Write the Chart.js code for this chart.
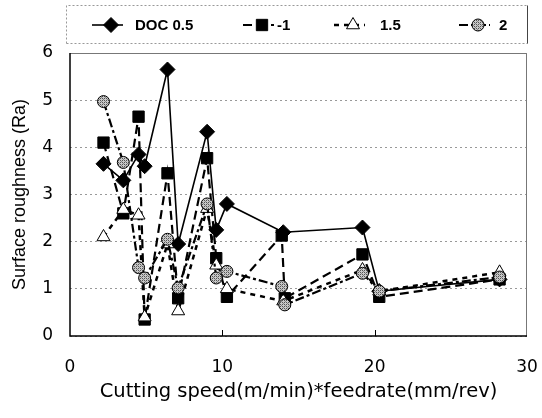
<!DOCTYPE html>
<html>
<head>
<meta charset="utf-8">
<script src="https://cdn.jsdelivr.net/npm/chart.js@4"></script>
<style>
html,body{margin:0;padding:0;background:#fff}
#wrap{width:542px;height:418px;position:relative}
</style>
</head>
<body>
<div id="wrap"><canvas id="chart"></canvas></div>
<script>
// -------- series names --------
const seriesNames = ["DOC 0.5", "-1", "1.5", "2"];

// -------- cutting speed * feedrate (x) and Ra (y) per depth of cut --------
const xDoc05  = [2.2, 3.5, 4.5, 4.9, 6.4, 7.1, 9.0, 9.6, 10.3, 14.0, 19.2, 20.3, 28.2];
const raDoc05 = [3.65, 3.3, 3.85, 3.6, 5.65, 1.95, 4.33, 2.25, 2.8, 2.2, 2.3, 0.95, 1.2];

const xDoc1  = [2.2, 3.5, 4.5, 4.9, 6.4, 7.1, 9.0, 9.6, 10.3, 13.9, 14.1, 19.2, 20.3, 28.2];
const raDoc1 = [4.1, 2.6, 4.65, 0.35, 3.45, 0.8, 3.77, 1.65, 0.83, 2.13, 0.8, 1.73, 0.83, 1.2];

const xDoc15  = [2.2, 3.5, 4.5, 4.9, 6.4, 7.1, 9.0, 9.6, 10.3, 14.0, 19.2, 20.3, 28.2];
const raDoc15 = [2.1, 2.68, 2.56, 0.4, 1.95, 0.53, 2.7, 1.5, 1.0, 0.74, 1.4, 0.95, 1.35];

const xDoc2  = [2.2, 3.5, 4.5, 4.9, 6.4, 7.1, 9.0, 9.6, 10.3, 13.9, 14.1, 19.2, 20.3, 28.2];
const raDoc2 = [4.97, 3.68, 1.45, 1.23, 2.05, 1.02, 2.8, 1.23, 1.37, 1.05, 0.66, 1.33, 0.95, 1.25];

// -------- axis ticks --------
const xTicks = [0, 10, 20, 30];
const yTicks = [0, 1, 2, 3, 4, 5, 6];

function pts(xs, ys){ return xs.map((x,i)=>({x:x, y:ys[i]})); }

// grainy grey fill for the round markers
function hatch(){
    const c = document.createElement('canvas');
    c.width = 4; c.height = 4;
    const g = c.getContext('2d');
    g.fillStyle = '#c8c8c8'; g.fillRect(0,0,4,4);
    g.fillStyle = '#555';
    g.fillRect(0,0,1,1); g.fillRect(2,2,1,1); g.fillRect(2,0,1,1); g.fillRect(0,2,1,1);
    g.fillStyle = '#888';
    g.fillRect(1,1,1,1); g.fillRect(3,3,1,1);
    return g.createPattern(c, 'repeat');
}
const circleFill = hatch();

const FONT = "'Liberation Sans', Arial, sans-serif";
const WIDE = "'DejaVu Sans', sans-serif";

// -------- legend drawn as line + marker samples in a box --------
const legendPos = [
    {mark:111, text:135},
    {mark:262, text:277},
    {mark:353, text:380},
    {mark:478, text:499}
];
const legendBox = {
    id:'legendBox',
    afterDraw(chart){
        const ctx = chart.ctx;
        ctx.save();
        ctx.strokeStyle = '#999';
        ctx.lineWidth = 1;
        ctx.setLineDash([2,2]);
        ctx.beginPath();
        ctx.moveTo(66.5, 43.5); ctx.lineTo(66.5, 5.5); ctx.lineTo(527.5, 5.5);
        ctx.moveTo(66.5, 43.5); ctx.lineTo(527.5, 43.5);
        ctx.stroke();
        ctx.setLineDash([]);
        ctx.strokeStyle = '#444';
        ctx.beginPath(); ctx.moveTo(527.5, 5.5); ctx.lineTo(527.5, 43.5); ctx.stroke();
        const y = 25;
        chart.data.datasets.forEach((ds,i)=>{
            const p = legendPos[i];
            ctx.strokeStyle = '#000';
            ctx.lineWidth = ds.borderWidth;
            ctx.setLineDash(ds.borderDash || []);
            ctx.beginPath();
            ctx.moveTo(p.mark-19, y);
            ctx.lineTo(p.mark+12, y);
            ctx.stroke();
            ctx.setLineDash([]);
            ctx.fillStyle = ds.pointBackgroundColor;
            ctx.strokeStyle = '#000';
            ctx.lineWidth = 1;
            Chart.helpers.drawPoint(ctx, {pointStyle:ds.pointStyle, radius:ds.pointRadius, rotation:0, borderWidth:1}, p.mark, y);
            ctx.fillStyle = '#000';
            ctx.font = 'bold 15px ' + FONT;
            ctx.textBaseline = 'middle';
            ctx.textAlign = 'left';
            ctx.fillText(ds.label, p.text, y+1);
        });
        ctx.restore();
    }
};

// -------- plot frame and inner tick marks --------
const frame = {
    id:'frame',
    beforeDatasetsDraw(chart){
        const {ctx, chartArea:a, scales} = chart;
        ctx.save();
        ctx.strokeStyle = '#777';
        ctx.lineWidth = 1;
        ctx.beginPath();
        ctx.moveTo(a.left, a.top+0.5); ctx.lineTo(a.right-0.5, a.top+0.5); ctx.lineTo(a.right-0.5, a.bottom);
        ctx.stroke();
        ctx.strokeStyle = '#000';
        ctx.lineWidth = 1.5;
        ctx.beginPath();
        ctx.moveTo(a.left, a.top); ctx.lineTo(a.left, a.bottom); ctx.lineTo(a.right, a.bottom);
        ctx.stroke();
        ctx.lineWidth = 1;
        xTicks.slice(1,-1).forEach(v=>{
            const x = Math.round(scales.x.getPixelForValue(v))+0.5;
            ctx.beginPath(); ctx.moveTo(x, a.bottom); ctx.lineTo(x, a.bottom-6); ctx.stroke();
        });
        ctx.restore();
    }
};

const datasets = [
    {label:seriesNames[0], data:pts(xDoc05, raDoc05), borderColor:'#000', borderWidth:1.6, borderDash:[],
     pointStyle:'rectRot', pointRadius:7.5, pointBackgroundColor:'#000', pointBorderColor:'#000', order:2},
    {label:seriesNames[1], data:pts(xDoc1, raDoc1), borderColor:'#000', borderWidth:2.2, borderDash:[9,5],
     pointStyle:'rect', pointRadius:8, pointBackgroundColor:'#000', pointBorderColor:'#000', order:3},
    {label:seriesNames[2], data:pts(xDoc15, raDoc15), borderColor:'#000', borderWidth:2.5, borderDash:[5,5],
     pointStyle:'triangle', pointRadius:7.5, pointBackgroundColor:'#fff', pointBorderColor:'#000', order:1},
    {label:seriesNames[3], data:pts(xDoc2, raDoc2), borderColor:'#000', borderWidth:2.2, borderDash:[9,3,3,3],
     pointStyle:'circle', pointRadius:6, pointBackgroundColor:circleFill, pointBorderColor:'#000', order:0}
];
datasets.forEach(d=>{ d.showLine = true; d.fill = false; d.tension = 0; d.pointBorderWidth = 1; });

new Chart(document.getElementById('chart'), {
    type:'scatter',
    data:{datasets:datasets},
    options:{
        responsive:true,
        maintainAspectRatio:false,
        animation:false,
        layout:{padding:{top:53, right:15, left:0, bottom:0}},
        plugins:{legend:{display:false}, tooltip:{enabled:false}},
        scales:{
            x:{
                type:'linear', min:0, max:30,
                afterBuildTicks:s=>{ s.ticks = xTicks.map(v=>({value:v})); },
                afterFit:s=>{ s.height = 82; s.paddingLeft = 0; s.paddingRight = 0; },
                ticks:{color:'#000', font:{family:WIDE, size:17}, padding:21},
                grid:{display:false, drawTicks:false},
                border:{display:false},
                title:{display:true, text:'Cutting speed(m/min)*feedrate(mm/rev)', color:'#000',
                       font:{family:WIDE, size:19.5}, padding:{top:0, bottom:14}}
            },
            y:{
                min:0, max:6,
                afterBuildTicks:s=>{ s.ticks = yTicks.map(v=>({value:v})); },
                afterFit:s=>{ s.width = 70; },
                ticks:{color:'#000', font:{family:WIDE, size:17}, padding:17},
                grid:{color:'#999', drawTicks:false, lineWidth:1},
                border:{display:false, dash:[2,3]},
                title:{display:true, text:'Surface roughness (Ra)', color:'#000',
                       font:{family:FONT, size:18}, padding:{top:9, bottom:0}}
            }
        }
    },
    plugins:[frame, legendBox]
});
</script>
</body>
</html>
